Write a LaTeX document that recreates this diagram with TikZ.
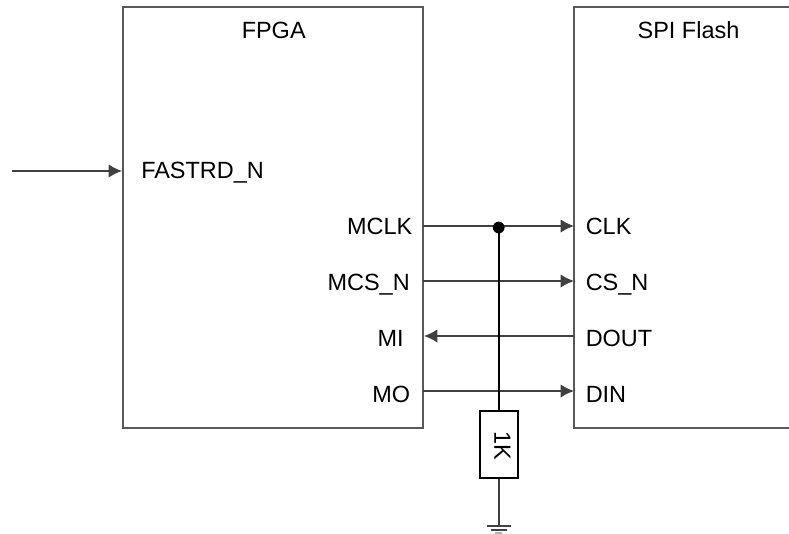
\documentclass[tikz,border=0pt]{standalone}
\usepackage{fontspec}
\setmainfont{Liberation Sans}
\definecolor{wire}{HTML}{404040}
\definecolor{boxc}{HTML}{595959}
\usetikzlibrary{arrows.meta,calc}
\tikzset{
  x=0.75pt,y=-0.75pt,
  lab/.style={font=\fontsize{17.6}{20}\selectfont,inner sep=0pt,text=black},
  chip/.style={draw=boxc,line width=1pt,fill=white},
  sig/.style={draw=wire,line width=1pt},
  tipped/.style={sig,-{Latex[length=10pt,width=10pt,color=wire]}},
}
\begin{document}
\begin{tikzpicture}
\useasboundingbox (0,0) rectangle (789,533);
\draw[chip] (123,7) rectangle (423,428);
\draw[chip] (789,7) -- (574,7) -- (574,428) -- (789,428);
\node[lab,anchor=base] (fpga) at (273.7,38) {FPGA};
\node[lab,anchor=base] (flash) at (688.5,38) {SPI Flash};
\node[lab,anchor=base west] (fast) at (141,178) {FASTRD\_N};
\node[lab,anchor=base east] (mclk) at (412.5,234) {MCLK};
\node[lab,anchor=base east] (mcs) at (410,290) {MCS\_N};
\node[lab,anchor=base east] (mi) at (404,346) {MI};
\node[lab,anchor=base east] (mo) at (410.5,402) {MO};
\node[lab,anchor=base west] (clk) at (585.5,234) {CLK};
\node[lab,anchor=base west] (cs) at (585.5,290) {CS\_N};
\node[lab,anchor=base west] (dout) at (585.5,346) {DOUT};
\node[lab,anchor=base west] (din) at (585.5,402) {DIN};
\coordinate (in) at (12,171);
\coordinate (fastp) at (122,171);
\coordinate (a1) at (423,226);
\coordinate (b1) at (574,226);
\coordinate (a2) at (423,281);
\coordinate (b2) at (574,281);
\coordinate (a3) at (424,336);
\coordinate (b3) at (574,336);
\coordinate (a4) at (423,391);
\coordinate (b4) at (574,391);
\coordinate (j) at (498.7,227.5);
\coordinate (g) at (498.7,526);
\draw[tipped] (in) -- (fastp);
\draw[tipped] (a1) -- (b1);
\draw[tipped] (a2) -- (b2);
\draw[tipped] (b3) -- (a3);
\draw[tipped] (a4) -- (b4);
\node[draw=black,line width=1.4pt,fill=white,minimum width=28.5pt,minimum height=50pt,inner sep=0pt,anchor=north] (r) at (498.7,410) {};
\draw[draw=black,line width=1.4pt] (j) -- (r.north);
\draw[sig,line width=1.3pt] (r.south) -- (g);
\fill[black] (j) circle (4.4pt);
\node[lab,rotate=-90] (rl) at (502.5,446) {1K};
\draw[sig] (486.5,526) -- (510.5,526);
\draw[sig] (490.5,530) -- (507,530);
\draw[sig,draw=gray!60] (495,533) -- (502,533);
\end{tikzpicture}
\end{document}
